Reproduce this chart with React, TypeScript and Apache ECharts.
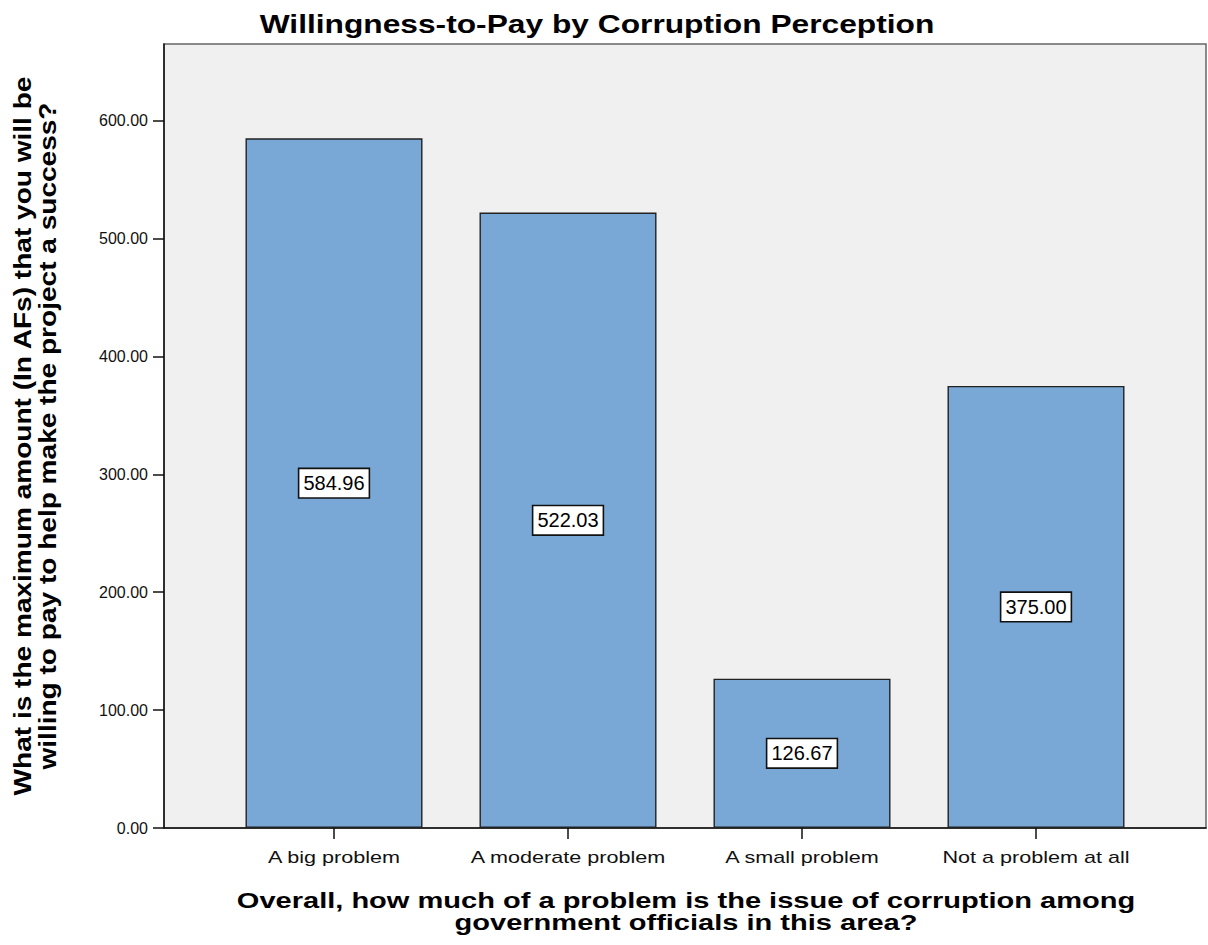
import React, { useEffect, useRef } from "react";
import * as echarts from "echarts";

const categories = ["A big problem", "A moderate problem", "A small problem", "Not a problem at all"];
const values = [584.96, 522.03, 126.67, 375.0];
const yTicks = [0, 100, 200, 300, 400, 500, 600];
const yMax = 665;

const chartTitle = "Willingness-to-Pay by Corruption Perception";
const xTitle = "Overall, how much of a problem is the issue of corruption among\ngovernment officials in this area?";
const yTitle = "What is the maximum amount (In AFs) that you will be\nwilling to pay to help make the project a success?";

export default function App() {
  const ref = useRef<HTMLDivElement>(null);
  useEffect(() => {
    if (!ref.current) return;
    const chart = echarts.init(ref.current, null, { renderer: "svg" });
    const font = "'Liberation Sans', Arial, sans-serif";
    const top = 44;
    const height = 784;
    const axisY = top + height;
    chart.setOption({
      animation: false,
      backgroundColor: "#ffffff",
      textStyle: { fontFamily: font },
      grid: [
        { left: 164, top, width: 1042, height, show: true, backgroundColor: "#f0f0f0", borderColor: "#666", borderWidth: 1.5 },
        { left: 217, top, width: 936, height },
      ],
      xAxis: [
        {
          gridIndex: 0, type: "value", min: 0, max: 1,
          axisLine: { show: true, lineStyle: { color: "#111", width: 1.5 } },
          axisTick: { show: false }, axisLabel: { show: false }, splitLine: { show: false },
        },
        {
          gridIndex: 1, type: "category", data: categories,
          axisLine: { show: false },
          axisTick: { show: true, alignWithLabel: true, length: 11, lineStyle: { color: "#111", width: 1.5 } },
          axisLabel: { show: false },
        },
      ],
      yAxis: [
        {
          gridIndex: 0, type: "value", min: 0, max: yMax,
          axisLine: { show: true, lineStyle: { color: "#111", width: 1.5 } },
          axisTick: { show: true, length: 11, customValues: yTicks, lineStyle: { color: "#111", width: 1.5 } },
          axisLabel: { customValues: yTicks, margin: 16, fontSize: 16, color: "#111", formatter: (v: number) => v.toFixed(2), fontFamily: font },
          splitLine: { show: false },
        },
        { gridIndex: 1, type: "value", min: 0, max: yMax, show: false },
      ],
      series: [
        {
          type: "bar",
          xAxisIndex: 1,
          yAxisIndex: 1,
          data: values,
          barWidth: 177,
          itemStyle: { color: "#79a8d6", borderColor: "#222", borderWidth: 1.4 },
          label: {
            show: true,
            position: "inside",
            formatter: (p: any) => Number(p.value).toFixed(2),
            color: "#000",
            fontSize: 20,
            fontFamily: font,
            backgroundColor: "#ffffff",
            borderColor: "#111",
            borderWidth: 1.6,
            padding: [5, 4, 3, 4],
          },
        },
      ],
    });

    const catLabels = categories.map((c) => {
      const x = chart.convertToPixel({ xAxisIndex: 1 }, c) as number;
      return {
        type: "text",
        x,
        y: axisY + 29,
        scaleX: 1.27,
        silent: true,
        style: { text: c, fontSize: 17, fontFamily: font, fill: "#111", textAlign: "center", textVerticalAlign: "middle" },
      };
    });

    chart.setOption({
      graphic: [
        {
          type: "text",
          x: 597,
          y: 24,
          scaleX: 1.22,
          silent: true,
          style: { text: chartTitle, fontSize: 26, fontWeight: "bold", fontFamily: font, fill: "#000", textAlign: "center", textVerticalAlign: "middle" },
        },
        {
          type: "text",
          x: 686,
          y: 911,
          scaleX: 1.32,
          silent: true,
          style: { text: xTitle, fontSize: 22, lineHeight: 22, fontWeight: "bold", fontFamily: font, fill: "#000", textAlign: "center", textVerticalAlign: "middle" },
        },
        {
          type: "text",
          x: 35,
          y: 436,
          rotation: Math.PI / 2,
          scaleX: 1.22,
          silent: true,
          style: { text: yTitle, fontSize: 23, lineHeight: 25, fontWeight: "bold", fontFamily: font, fill: "#000", textAlign: "center", textVerticalAlign: "middle" },
        },
        ...catLabels,
      ],
    });
    return () => chart.dispose();
  }, []);
  return <div ref={ref} style={{ position: "fixed", left: 0, top: 0, width: 1208, height: 945 }} />;
}
